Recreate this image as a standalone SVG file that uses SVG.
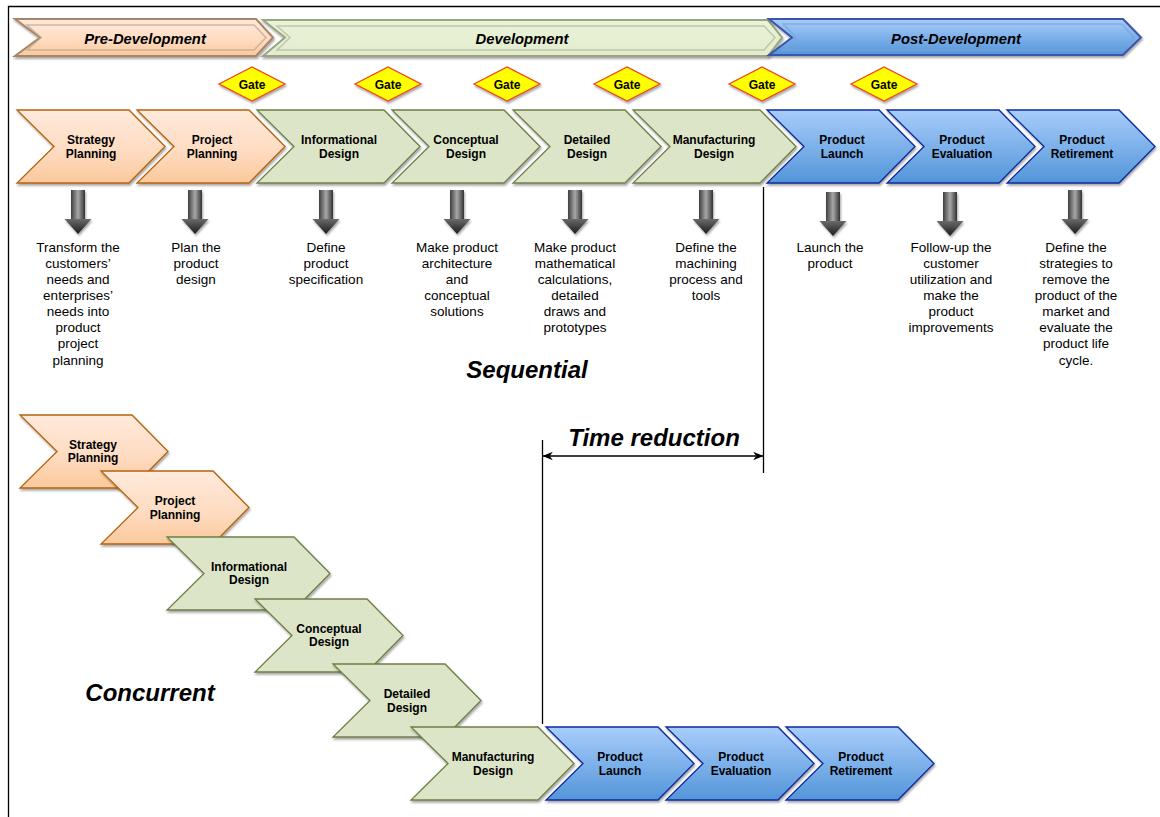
<svg xmlns="http://www.w3.org/2000/svg" xmlns:xlink="http://www.w3.org/1999/xlink" width="1160" height="817" viewBox="0 0 1160 817">
<style>
text{font-family:"Liberation Sans",Arial,sans-serif;text-anchor:middle;fill:#000}
.l{font-weight:bold;font-size:12px}
.d{font-size:13.500px}
.b{font-weight:bold;font-style:italic;font-size:14.800px}
.t{font-weight:bold;font-style:italic;font-size:24px}
.g{font-weight:bold;font-size:12px}
.o{fill:url(#og);stroke:#b4620f;stroke-width:1.300;filter:url(#sh)}
.n{fill:#dde5c8;stroke:#6d7f45;stroke-width:1.300;filter:url(#sh)}
.u{fill:url(#bg);stroke:#0a2a9c;stroke-width:1.300;filter:url(#sh)}
.gate{fill:#ffff00;stroke:#f0441c;stroke-width:1.300;filter:url(#sh)}
.ln{stroke:#000;stroke-width:1.300;fill:none}
</style>
<defs>
<filter id="sh" x="-10%" y="-10%" width="125%" height="130%"><feDropShadow dx="1" dy="2" stdDeviation="1.200" flood-color="#000" flood-opacity=".35"/></filter>
<linearGradient id="og" x1="0" y1="0" x2="0" y2="1"><stop offset="0" stop-color="#ffeadb"/><stop offset=".55" stop-color="#fedcc2"/><stop offset="1" stop-color="#fbc99c"/></linearGradient>
<linearGradient id="bg" x1="0" y1="0" x2="0" y2="1"><stop offset="0" stop-color="#a8cdfb"/><stop offset="1" stop-color="#5395d9"/></linearGradient>
<linearGradient id="ng" x1="0" y1="0" x2="0" y2="1"><stop offset="0" stop-color="#eaf2d8"/><stop offset="1" stop-color="#e3edcd"/></linearGradient>
<linearGradient id="ar" x1="0" y1="0" x2="1" y2="0"><stop offset="0" stop-color="#3e3e3e"/><stop offset=".5" stop-color="#a8a8a8"/><stop offset="1" stop-color="#333"/></linearGradient>
<linearGradient id="ah" x1="0" y1="0" x2="0" y2="1"><stop offset="0" stop-color="#6a6a6a"/><stop offset="1" stop-color="#1c1c1c"/></linearGradient>
<path id="c148" d="M0 0H112L148 36.500L112 73H0L37 36.500Z"/>
<path id="c164" d="M0 0H127L163 36.500L127 73H0L37 36.500Z"/>
<g id="dn" filter="url(#sh)"><rect x="-7" y="0" width="14" height="30" fill="url(#ar)"/><path d="M-13.500 29H13.500L0 44Z" fill="url(#ah)"/></g>
<marker id="m" viewBox="0 0 10 10" refX="9.500" refY="5" markerWidth="8" markerHeight="8" orient="auto-start-reverse"><path d="M0 1L10 5L0 9L3 5Z" fill="#000"/></marker>
</defs>
<rect width="1160" height="817" fill="#fff"/>
<path d="M8.500 817V6.500H1160" fill="none" stroke="#000" stroke-width="1.300"/>

<g id="pre-development">
<path d="M15 19H256L273 37.500L256 56H15L40 37.500Z" fill="url(#og)" stroke="#a88468" stroke-width="2" filter="url(#sh)"/>
<path d="M27 25H254L266 37.500L254 50H27L41 37.500Z" fill="none" stroke="#b8a28e" stroke-width="1.500" opacity=".7"/>
<text class="b" x="145" y="44">Pre-Development</text>
</g>
<g id="development">
<path d="M263 20H768L782 37.500L768 56H263L285 37.500Z" fill="url(#ng)" stroke="#98a684" stroke-width="2" filter="url(#sh)"/>
<path d="M277 26H764L775 37.500L764 50H277L290 37.500Z" fill="none" stroke="#aab79a" stroke-width="1.500" opacity=".7"/>
<text class="b" x="522" y="44">Development</text>
</g>
<g id="post-development">
<path d="M769 19H1123L1141 37.500L1123 55H769L792 37.500Z" fill="url(#bg)" stroke="#3a55a8" stroke-width="2" filter="url(#sh)"/>
<path d="M783 24H1122L1134 37.500L1122 50H783L796 37.500Z" fill="none" stroke="#7ea3d8" stroke-width="1.500" opacity=".7"/>
<text class="b" x="956" y="44">Post-Development</text>
</g>

<g id="gate-1"><path class="gate" d="M219 84L252 67L285 84L252 101Z"/><text class="g" x="252" y="89">Gate</text></g>
<g id="gate-2"><path class="gate" d="M355 84L388 67L421 84L388 101Z"/><text class="g" x="388" y="89">Gate</text></g>
<g id="gate-3"><path class="gate" d="M474 84L507 67L540 84L507 101Z"/><text class="g" x="507" y="89">Gate</text></g>
<g id="gate-4"><path class="gate" d="M594 84L627 67L660 84L627 101Z"/><text class="g" x="627" y="89">Gate</text></g>
<g id="gate-5"><path class="gate" d="M729 84L762 67L795 84L762 101Z"/><text class="g" x="762" y="89">Gate</text></g>
<g id="gate-6"><path class="gate" d="M851 84L884 67L917 84L884 101Z"/><text class="g" x="884" y="89">Gate</text></g>

<g id="seq-strategy"><use href="#c148" class="o" x="17" y="110"/><text class="l" x="91" y="144">Strategy</text><text class="l" x="91" y="158">Planning</text></g>
<g id="seq-project"><use href="#c148" class="o" x="137" y="110"/><text class="l" x="212" y="144">Project</text><text class="l" x="212" y="158">Planning</text></g>
<g id="seq-informational"><use href="#c164" class="n" x="257" y="110"/><text class="l" x="339" y="144">Informational</text><text class="l" x="339" y="158">Design</text></g>
<g id="seq-conceptual"><use href="#c148" class="n" x="392" y="110"/><text class="l" x="466" y="144">Conceptual</text><text class="l" x="466" y="158">Design</text></g>
<g id="seq-detailed"><use href="#c148" class="n" x="513" y="110"/><text class="l" x="587" y="144">Detailed</text><text class="l" x="587" y="158">Design</text></g>
<g id="seq-manufacturing"><use href="#c164" class="n" x="633" y="110"/><text class="l" x="714" y="144">Manufacturing</text><text class="l" x="714" y="158">Design</text></g>
<g id="seq-launch"><use href="#c148" class="u" x="767" y="110"/><text class="l" x="842" y="144">Product</text><text class="l" x="842" y="158">Launch</text></g>
<g id="seq-evaluation"><use href="#c148" class="u" x="887" y="110"/><text class="l" x="962" y="144">Product</text><text class="l" x="962" y="158">Evaluation</text></g>
<g id="seq-retirement"><use href="#c148" class="u" x="1007" y="110"/><text class="l" x="1082" y="144">Product</text><text class="l" x="1082" y="158">Retirement</text></g>

<g id="desc-strategy"><use href="#dn" x="78" y="190"/><text class="d" x="78" y="252">Transform the</text><text class="d" x="78" y="268">customers’</text><text class="d" x="78" y="284">needs and</text><text class="d" x="78" y="300">enterprises’</text><text class="d" x="78" y="316">needs into</text><text class="d" x="78" y="332">product</text><text class="d" x="78" y="348">project</text><text class="d" x="78" y="365">planning</text></g>
<g id="desc-project"><use href="#dn" x="195" y="190"/><text class="d" x="196" y="252">Plan the</text><text class="d" x="196" y="268">product</text><text class="d" x="196" y="284">design</text></g>
<g id="desc-informational"><use href="#dn" x="326" y="190"/><text class="d" x="326" y="252">Define</text><text class="d" x="326" y="268">product</text><text class="d" x="326" y="284">specification</text></g>
<g id="desc-conceptual"><use href="#dn" x="457" y="190"/><text class="d" x="457" y="252">Make product</text><text class="d" x="457" y="268">architecture</text><text class="d" x="457" y="284">and</text><text class="d" x="457" y="300">conceptual</text><text class="d" x="457" y="316">solutions</text></g>
<g id="desc-detailed"><use href="#dn" x="575" y="190"/><text class="d" x="575" y="252">Make product</text><text class="d" x="575" y="268">mathematical</text><text class="d" x="575" y="284">calculations,</text><text class="d" x="575" y="300">detailed</text><text class="d" x="575" y="316">draws and</text><text class="d" x="575" y="332">prototypes</text></g>
<g id="desc-manufacturing"><use href="#dn" x="706" y="190"/><text class="d" x="706" y="252">Define the</text><text class="d" x="706" y="268">machining</text><text class="d" x="706" y="284">process and</text><text class="d" x="706" y="300">tools</text></g>
<g id="desc-launch"><use href="#dn" x="833" y="192"/><text class="d" x="830" y="252">Launch the</text><text class="d" x="830" y="268">product</text></g>
<g id="desc-evaluation"><use href="#dn" x="950" y="192"/><text class="d" x="951" y="252">Follow-up the</text><text class="d" x="951" y="268">customer</text><text class="d" x="951" y="284">utilization and</text><text class="d" x="951" y="300">make the</text><text class="d" x="951" y="316">product</text><text class="d" x="951" y="332">improvements</text></g>
<g id="desc-retirement"><use href="#dn" x="1075" y="190"/><text class="d" x="1076" y="252">Define the</text><text class="d" x="1076" y="268">strategies to</text><text class="d" x="1076" y="284">remove the</text><text class="d" x="1076" y="300">product of the</text><text class="d" x="1076" y="316">market and</text><text class="d" x="1076" y="332">evaluate the</text><text class="d" x="1076" y="348">product life</text><text class="d" x="1076" y="365">cycle.</text></g>

<text class="t" x="527" y="378">Sequential</text>
<text class="t" x="654" y="446">Time reduction</text>
<text class="t" x="150" y="701">Concurrent</text>

<g id="connectors">
<path class="ln" d="M763.500 187V473"/>
<path class="ln" d="M542.500 440V724"/>
<path class="ln" d="M543 456H763" marker-start="url(#m)" marker-end="url(#m)"/>
</g>

<g id="con-strategy"><use href="#c148" class="o" x="20" y="415"/><text class="l" x="93" y="449">Strategy</text><text class="l" x="93" y="462">Planning</text></g>
<g id="con-project"><use href="#c148" class="o" x="101" y="471"/><text class="l" x="175" y="505">Project</text><text class="l" x="175" y="519">Planning</text></g>
<g id="con-informational"><use href="#c164" class="n" x="167" y="537"/><text class="l" x="249" y="571">Informational</text><text class="l" x="249" y="584">Design</text></g>
<g id="con-conceptual"><use href="#c148" class="n" x="255" y="599"/><text class="l" x="329" y="633">Conceptual</text><text class="l" x="329" y="646">Design</text></g>
<g id="con-detailed"><use href="#c148" class="n" x="333" y="664"/><text class="l" x="407" y="698">Detailed</text><text class="l" x="407" y="712">Design</text></g>
<g id="con-launch"><use href="#c148" class="u" x="546" y="727"/><text class="l" x="620" y="761">Product</text><text class="l" x="620" y="775">Launch</text></g>
<g id="con-evaluation"><use href="#c148" class="u" x="666" y="727"/><text class="l" x="741" y="761">Product</text><text class="l" x="741" y="775">Evaluation</text></g>
<g id="con-retirement"><use href="#c148" class="u" x="786" y="727"/><text class="l" x="861" y="761">Product</text><text class="l" x="861" y="775">Retirement</text></g>
<g id="con-manufacturing"><use href="#c164" class="n" x="411" y="727"/><text class="l" x="493" y="761">Manufacturing</text><text class="l" x="493" y="775">Design</text></g>
</svg>
